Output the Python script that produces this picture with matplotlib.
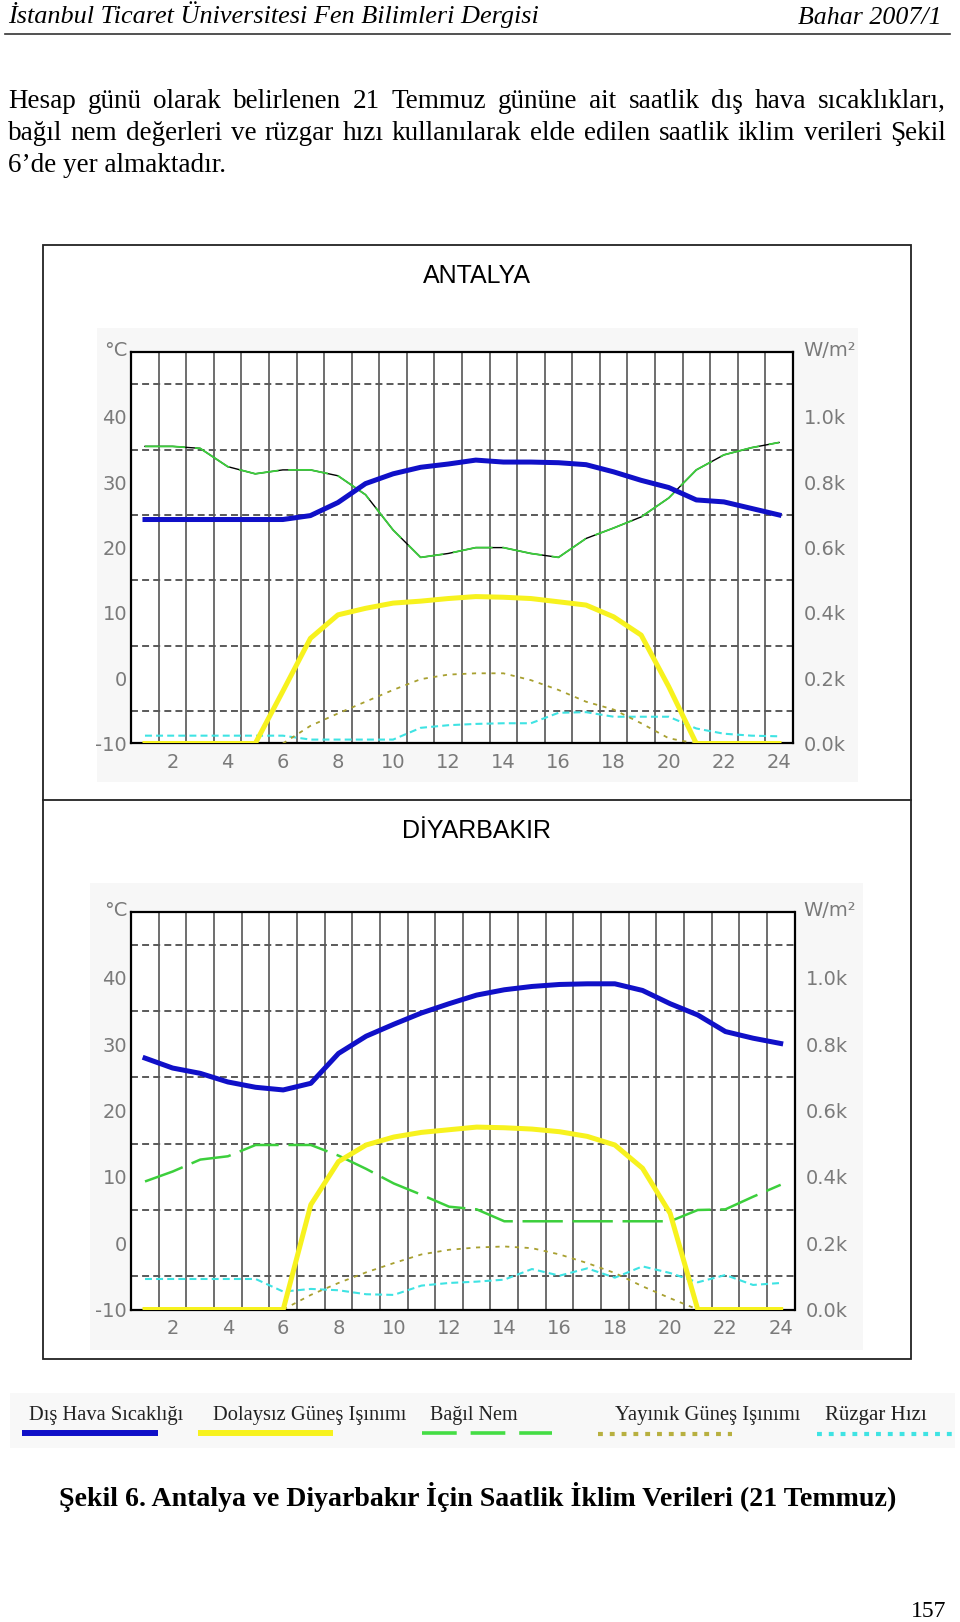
import numpy as np
import matplotlib
matplotlib.use("Agg")
import matplotlib.pyplot as plt
from matplotlib.ticker import FixedLocator, FuncFormatter
from matplotlib.patches import Rectangle

plt.rcParams['lines.scale_dashes'] = False
plt.rcParams['axes.unicode_minus'] = False

# hourly data (left-axis units for temperature, humidity, wind; W/m2 for radiation)
hours = list(range(1, 25))
sun_hours = list(range(6, 22))

ant_temp = [24.3, 24.3, 24.3, 24.3, 24.3, 24.3, 24.9, 26.9, 29.8, 31.3, 32.3, 32.8,
            33.4, 33.1, 33.1, 33.0, 32.7, 31.6, 30.3, 29.2, 27.3, 27.0, 26.0, 25.0]
ant_hum = [35.5, 35.5, 35.2, 32.4, 31.3, 31.9, 31.9, 31.0, 28.1, 22.7, 18.5, 19.1,
           20.0, 20.0, 19.1, 18.5, 21.4, 23.0, 24.7, 27.6, 31.9, 34.2, 35.3, 36.1]
ant_direct = [0, 0, 0, 0, 0, 160, 322, 394, 414, 430, 436, 444,
              450, 448, 444, 434, 424, 388, 332, 174, 0, 0, 0, 0]
ant_diffuse = [0, 54, 92, 128, 164, 197, 211, 215, 215, 194, 164, 128, 104, 62, 16, 0]
ant_wind = [-8.8, -8.8, -8.8, -8.8, -8.8, -8.8, -9.4, -9.4, -9.4, -9.4, -7.6, -7.2,
            -7.0, -6.9, -6.9, -5.3, -5.2, -5.9, -5.9, -5.9, -7.7, -8.5, -8.8, -8.9]

diy_temp = [27.9, 26.4, 25.6, 24.3, 23.5, 23.1, 24.1, 28.6, 31.2, 33.0, 34.7, 36.1,
            37.4, 38.2, 38.7, 39.0, 39.1, 39.1, 38.1, 36.1, 34.4, 31.9, 30.9, 30.1]
diy_hum = [9.3, 10.8, 12.6, 13.1, 14.8, 14.8, 14.8, 13.2, 11.2, 9.0, 7.3, 5.5,
           5.1, 3.3, 3.3, 3.3, 3.3, 3.3, 3.3, 3.3, 5.0, 5.1, 7.0, 8.8]
diy_direct = [0, 0, 0, 0, 0, 0, 316, 446, 496, 520, 534, 542,
              550, 548, 544, 536, 522, 496, 426, 290, 0, 0, 0, 0]
diy_diffuse = [0, 44, 80, 112, 140, 166, 180, 187, 190, 185, 166, 140, 110, 70, 34, 0]
diy_wind = [-5.4, -5.4, -5.4, -5.4, -5.4, -7.3, -6.9, -7.1, -7.7, -7.8, -6.4, -6.0,
            -5.8, -5.5, -3.9, -4.9, -3.8, -5.2, -3.5, -4.5, -5.9, -4.8, -6.3, -6.0]

legend_labels = ["Dış Hava Sıcaklığı", "Dolaysız Güneş Işınımı", "Bağıl Nem",
                 "Yayınık Güneş Işınımı", "Rüzgar Hızı"]

BLUE = '#1010c8'
YELLOW = '#f7f21e'
GREEN = '#3ccf3c'
OLIVE = '#a8a030'
CYAN = '#3fe3e3'
TICK = '#7a7a7a'

W, H = 960, 1622
fig = plt.figure(figsize=(W / 100, H / 100), dpi=100)
ov = fig.add_axes([0, 0, 1, 1], zorder=0)
ov.set_xlim(0, W)
ov.set_ylim(H, 0)
ov.axis('off')
rend = fig.canvas.get_renderer()


def px_axes(l, t, r, b):
    return fig.add_axes([l / W, 1 - b / H, (r - l) / W, (b - t) / H], zorder=2)


def fitted(x, y, s, width, fs, va='baseline', **kw):
    t = ov.text(x, y, s, fontsize=fs, va=va, **kw)
    w = t.get_window_extent(rend).width
    t.set_fontsize(fs * width / w)
    return t


def justified(line, x0, x1, y, fs, min_gap=6):
    words = line.split()
    texts = [ov.text(0, y, w, fontsize=fs, family='Liberation Serif', va='baseline')
             for w in words]
    widths = [t.get_window_extent(rend).width for t in texts]
    gap = (x1 - x0 - sum(widths)) / (len(words) - 1)
    if gap < min_gap:
        # shrink the words so that at least min_gap is left between them
        k = (x1 - x0 - min_gap * (len(words) - 1)) / sum(widths)
        for t in texts:
            t.set_fontsize(fs * k)
        widths = [w * k for w in widths]
        gap = min_gap
    x = x0
    for t, w in zip(texts, widths):
        t.set_x(x)
        x += w + gap


# page header
fitted(8, 23.5, "İstanbul Ticaret Üniversitesi Fen Bilimleri Dergisi", 534, 17,
       family='Liberation Serif', style='italic')
fitted(942, 23.5, "Bahar 2007/1", 144, 17, family='Liberation Serif',
       style='italic', ha='right')
ov.plot([5, 950], [34, 34], color='#333333', lw=1.2)

# paragraph
par_fs = 19.5
justified("Hesap günü olarak belirlenen 21 Temmuz gününe ait saatlik dış hava sıcaklıkları,",
          8, 946, 108, par_fs)
justified("bağıl nem değerleri ve rüzgar hızı kullanılarak elde edilen saatlik iklim verileri Şekil",
          8, 946, 140.5, par_fs)
ov.text(8, 171.5, "6’de yer almaktadır.", fontsize=par_fs, family='Liberation Serif',
        va='baseline')

# figure frame
ov.add_patch(Rectangle((42.7, 245), 868.3, 1114, fill=False, ec='#222222', lw=1.3))
ov.plot([42.7, 911], [800, 800], color='#222222', lw=1.3)

# chart image backgrounds
ov.add_patch(Rectangle((96.7, 328), 761.3, 453.7, fc='#f7f7f7', ec='none'))
ov.add_patch(Rectangle((90, 883), 773, 467, fc='#f7f7f7', ec='none'))

ov.text(477, 276, "ANTALYA", fontsize=18, family='Liberation Sans', ha='center', va='center')
ov.text(477, 831, "DİYARBAKIR", fontsize=18, family='Liberation Sans', ha='center', va='center')


def draw_chart(ax, temp, hum, direct, diffuse, wind, black_under):
    ax.set_xlim(0.5, 24.5)
    ax.set_ylim(-10, 50)
    ax.set_facecolor('white')
    ax.xaxis.set_major_locator(FixedLocator(range(2, 25, 2)))
    ax.xaxis.set_minor_locator(FixedLocator(np.arange(1.5, 24, 1)))
    ax.yaxis.set_major_locator(FixedLocator(range(-10, 41, 10)))
    ax.yaxis.set_minor_locator(FixedLocator(range(-5, 50, 5)))
    ax.grid(False)
    ax.grid(which='minor', axis='x', color='#6e6e6e', lw=1.4, ls='-')
    ax.grid(which='minor', axis='y', color='#5a5a5a', lw=1.4, ls=(0, (5, 3)))
    ax.set_axisbelow(True)
    ax.tick_params(which='both', length=0)
    ax.tick_params(axis='x', labelsize=14, labelcolor=TICK, pad=7)
    ax.tick_params(axis='y', labelsize=14, labelcolor=TICK, pad=3)
    for sp in ax.spines.values():
        sp.set_color('black')
        sp.set_linewidth(1.6)

    ax2 = ax.twinx()
    ax2.set_ylim(0, 1200)
    ax2.yaxis.set_major_locator(FixedLocator(range(0, 1001, 200)))
    ax2.yaxis.set_major_formatter(FuncFormatter(lambda v, p: f"{v / 1000:.1f}k"))
    ax2.tick_params(length=0, labelsize=14, labelcolor=TICK, pad=8)
    for sp in ax2.spines.values():
        sp.set_visible(False)

    if black_under:
        ax.plot(hours, hum, color='black', lw=1.0, zorder=3)
        ax.plot(hours, hum, color=GREEN, lw=1.3, ls=(0, (29, 7)), zorder=3)
    else:
        ax.plot(hours, hum, color=GREEN, lw=1.8, ls=(0, (29, 7)), zorder=3)
    ax.plot(hours, wind, color=CYAN, lw=1.5, ls=(0, (5, 3)), zorder=3)
    ax.plot(hours, temp, color=BLUE, lw=3.6, zorder=5)
    ax2.plot(sun_hours, diffuse, color=OLIVE, lw=1.3, ls=(0, (3, 4)), zorder=3)
    ax2.plot(hours, direct, color=YELLOW, lw=3.6, zorder=4)
    return ax2


ax_a = px_axes(131.2, 351.7, 792.8, 743.5)
draw_chart(ax_a, ant_temp, ant_hum, ant_direct, ant_diffuse, ant_wind, True)
ax_d = px_axes(131.2, 911.5, 794.5, 1309.5)
draw_chart(ax_d, diy_temp, diy_hum, diy_direct, diy_diffuse, diy_wind, False)

# unit labels
for yc in (350, 910):
    ov.text(128, yc, "°C", fontsize=14, color=TICK, ha='right', va='center')
    ov.text(803, yc, "W/m²", fontsize=14, color=TICK, ha='left', va='center')

# legend strip
ov.add_patch(Rectangle((10, 1393), 945, 55, fc='#f8f8f8', ec='none'))
leg_text_x = [29, 213, 430, 615, 825]
leg_text_w = [156, 195, 88, 187, 102]
for x, w, s in zip(leg_text_x, leg_text_w, legend_labels):
    fitted(x, 1420, s, w, 15, family='Liberation Serif', color='#222222')
ov.plot([21.7, 158], [1433, 1433], color=BLUE, lw=4.3, solid_capstyle='butt')
ov.plot([198, 333], [1433, 1433], color=YELLOW, lw=4.3, solid_capstyle='butt')
ov.plot([422, 552], [1433, 1433], color='#44dd44', lw=2.6, ls=(0, (25, 10)))
ov.plot([598, 732], [1434, 1434], color='#b8b040', lw=3, ls=(0, (3.5, 5)))
ov.plot([817, 955], [1434, 1434], color=CYAN, lw=3, ls=(0, (3.5, 5)))

# caption and page number
fitted(59, 1506, "Şekil 6. Antalya ve Diyarbakır İçin Saatlik İklim Verileri (21 Temmuz)",
       835, 18, family='Liberation Serif', weight='bold')
ov.text(946, 1617, "157", fontsize=17, family='Liberation Serif', ha='right', va='baseline')

fig.savefig("out.png", dpi=100)
